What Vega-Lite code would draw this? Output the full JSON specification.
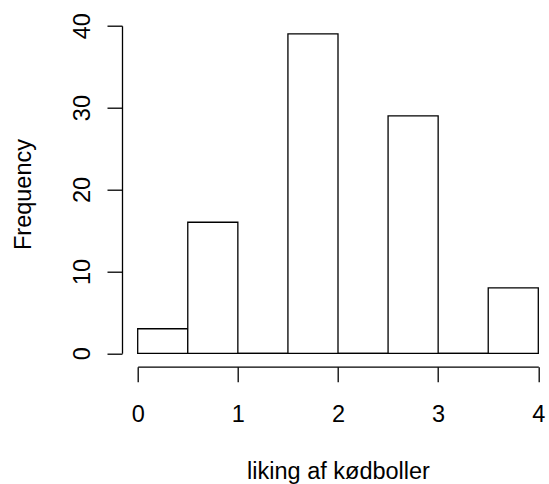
{
  "$schema": "https://vega.github.io/schema/vega-lite/v6.json",
  "width": 400.6,
  "height": 327.6,
  "autosize": "none",
  "padding": {"left": 137.7, "top": 25.7, "right": 10.7, "bottom": 130.7},
  "background": "white",
  "config": {"view": {"stroke": null}, "font": "Liberation Sans"},
  "data": {
    "values": [
      {"lo": 0.0, "hi": 0.5, "count": 3},
      {"lo": 0.5, "hi": 1.0, "count": 16},
      {"lo": 1.0, "hi": 1.5, "count": 0},
      {"lo": 1.5, "hi": 2.0, "count": 39},
      {"lo": 2.0, "hi": 2.5, "count": 0},
      {"lo": 2.5, "hi": 3.0, "count": 29},
      {"lo": 3.0, "hi": 3.5, "count": 0},
      {"lo": 3.5, "hi": 4.0, "count": 8}
    ]
  },
  "encoding": {
    "x": {
      "field": "lo",
      "type": "quantitative",
      "scale": {"domain": [0, 4], "nice": false, "zero": false},
      "axis": {
        "title": "liking af kødboller",
        "values": [0, 1, 2, 3, 4],
        "grid": false,
        "offset": 13.4,
        "tickSize": 15,
        "tickColor": "black",
        "tickWidth": 1.3,
        "domainColor": "black",
        "domainWidth": 1.3,
        "labelFont": "Liberation Sans",
        "labelFontSize": 23.5,
        "labelColor": "black",
        "labelBaseline": "alphabetic",
        "labelPadding": 40,
        "labelFlush": false,
        "labelOverlap": false,
        "titleFont": "Liberation Sans",
        "titleFontSize": 23.5,
        "titleFontWeight": "normal",
        "titleColor": "black",
        "titleBaseline": "alphabetic",
        "titleAlign": "center",
        "titleX": 200.3,
        "titleY": 111.6
      }
    },
    "x2": {"field": "hi"}
  },
  "layer": [
    {
      "mark": {"type": "rule", "stroke": "black", "strokeWidth": 1.3},
      "encoding": {"y": {"datum": 0, "type": "quantitative"}}
    },
    {
      "mark": {"type": "rect", "fill": "white", "stroke": "black", "strokeWidth": 1.3},
      "encoding": {
        "y": {
          "field": "count",
          "type": "quantitative",
          "scale": {"domain": [0, 40], "nice": false},
          "axis": {
            "title": "Frequency",
            "values": [0, 10, 20, 30, 40],
            "grid": false,
            "offset": 15.7,
            "tickSize": 15,
            "tickColor": "black",
            "tickWidth": 1.3,
            "domainColor": "black",
            "domainWidth": 1.3,
            "labelFont": "Liberation Sans",
            "labelFontSize": 23.5,
            "labelColor": "black",
            "labelAngle": 270,
            "labelAlign": "center",
            "labelBaseline": "alphabetic",
            "labelPadding": 18,
            "labelFlush": false,
            "labelOverlap": false,
            "titleFont": "Liberation Sans",
            "titleFontSize": 23.5,
            "titleFontWeight": "normal",
            "titleColor": "black",
            "titleAngle": 270,
            "titleBaseline": "alphabetic",
            "titleAlign": "center",
            "titleX": -92,
            "titleY": 168.3
          }
        },
        "y2": {"datum": 0}
      }
    }
  ]
}
